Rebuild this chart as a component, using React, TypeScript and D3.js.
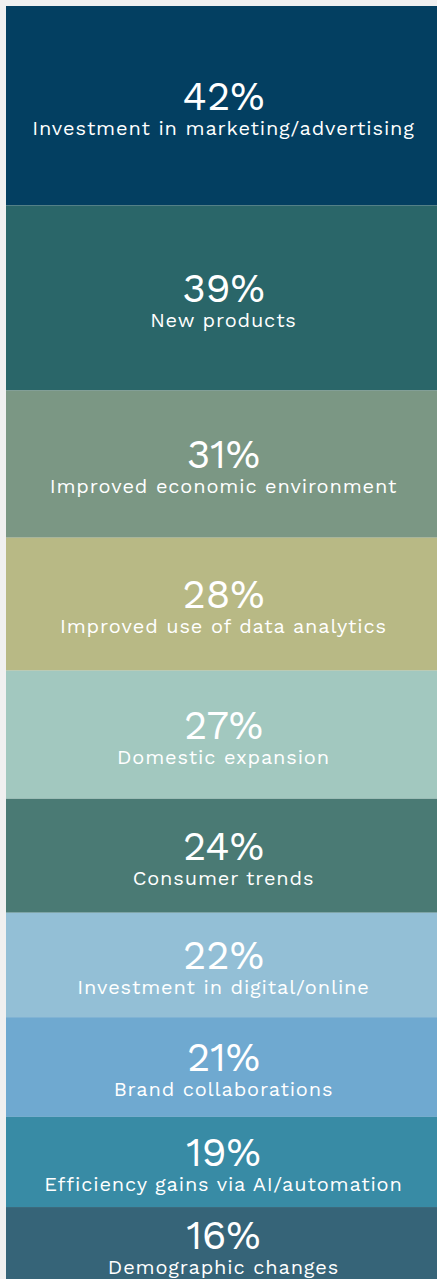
import React from "react";
import * as d3 from "d3";

const drivers = [
  "Investment in marketing/advertising",
  "New products",
  "Improved economic environment",
  "Improved use of data analytics",
  "Domestic expansion",
  "Consumer trends",
  "Investment in digital/online",
  "Brand collaborations",
  "Efficiency gains via AI/automation",
  "Demographic changes",
];
const shares = [42, 39, 31, 28, 27, 24, 22, 21, 19, 16];
const palette = [
  "#033f61",
  "#2a6669",
  "#7b9784",
  "#b8b985",
  "#a2c8bf",
  "#4a7a74",
  "#93bfd6",
  "#6fa9d0",
  "#388ba5",
  "#366478",
];

const App = () => {
  const width = 435;
  const top = 6;
  const bottom = 1283;
  const total = d3.sum(shares);
  const y = d3.scaleLinear().domain([0, total]).range([top, bottom]);
  const ends = d3.cumsum(shares);
  const font = "'Work Sans', 'Open Sans', sans-serif";

  return (
    <div style={{ position: "fixed", inset: 0, background: "#f0f0f0", overflow: "hidden" }}>
      <svg width={width} height={bottom + 10} style={{ position: "absolute", left: 6, top: 0 }}>
        {shares.map((d, i) => {
          const y0 = y(ends[i] - d);
          const y1 = y(ends[i]);
          const cy = (y0 + y1) / 2 + 4;
          return (
            <g key={drivers[i]}>
              <rect x={0} y={y0} width={width} height={y1 - y0} fill={palette[i]} />
              <text x={width / 2} y={cy} textAnchor="middle" fill="#fff" fontFamily={font} fontSize={40} fontWeight={400}>
                {d}%
              </text>
              <text x={width / 2} y={cy + 25} textAnchor="middle" fill="#fff" fontFamily={font} fontSize={20} letterSpacing={0.85}>
                {drivers[i]}
              </text>
            </g>
          );
        })}
      </svg>
    </div>
  );
};

export default App;
